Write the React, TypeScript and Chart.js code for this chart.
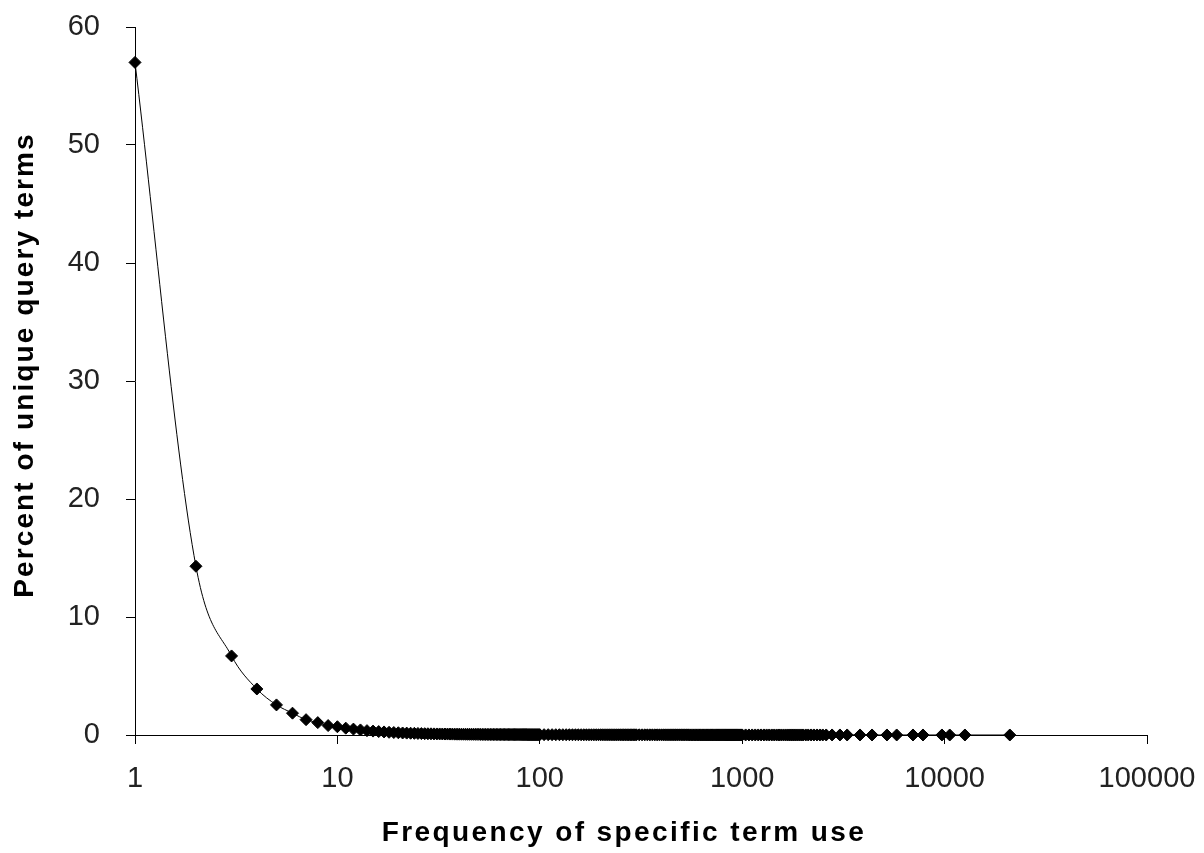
import React, { useEffect, useRef } from 'react';
import { Chart, registerables } from 'chart.js';

Chart.register(...registerables);

const FONT = '"Liberation Sans", Arial, sans-serif';

// Frequency of specific term use (x, log scale)
const frequencies = [
  1, 2, 3, 4, 5, 6, 7, 8, 9, 10,
  11, 12, 13, 14, 15, 16, 17, 18, 19, 20,
  21, 22, 23, 24, 25, 26, 27, 28, 29, 30,
  31, 32, 33, 34, 35, 36, 37, 38, 39, 40,
  41, 42, 43, 44, 45, 46, 47, 48, 49, 50,
  51, 52, 53, 54, 55, 56, 57, 58, 59, 60,
  61, 62, 63, 64, 65, 66, 67, 68, 69, 70,
  71, 72, 73, 74, 75, 76, 77, 78, 79, 80,
  81, 82, 83, 84, 85, 86, 87, 88, 89, 90,
  91, 92, 93, 94, 95, 96, 97, 98, 99, 100,
  105, 110, 115, 120, 125, 130, 135, 140, 145, 150,
  155, 160, 165, 170, 175, 180, 185, 190, 195, 200,
  205, 210, 215, 220, 225, 230, 235, 240, 245, 250,
  255, 260, 265, 270, 275, 280, 285, 290, 295, 300,
  310, 320, 330, 340, 350, 360, 370, 380, 390, 400,
  410, 420, 430, 440, 450, 460, 470, 480, 490, 500,
  510, 520, 530, 540, 550, 560, 570, 580, 590, 600,
  610, 620, 630, 640, 650, 660, 670, 680, 690, 700,
  710, 720, 730, 740, 750, 760, 770, 780, 790, 800,
  810, 820, 830, 840, 850, 860, 870, 880, 890, 900,
  910, 920, 930, 940, 950, 960, 970, 980, 990, 1000,
  1040, 1080, 1120, 1160, 1200, 1240, 1280, 1320, 1360, 1400,
  1440, 1480, 1520, 1560, 1600, 1640, 1680, 1720, 1760, 1800,
  1840, 1880, 1920, 1960, 2000,
  2060, 2120, 2190, 2260, 2340, 2420, 2500,
  2600, 2780, 3040, 3300, 3820, 4380, 5190, 5800, 6980, 7820, 9700, 10600, 12600, 21000,
];

// Percent of unique query terms (y)
const percents = [
  57, 14.3, 6.7, 3.9, 2.55, 1.85, 1.3, 1.05, 0.8, 0.7,
  0.58, 0.5, 0.43, 0.37, 0.33, 0.29, 0.26, 0.23, 0.21, 0.19,
  0.17, 0.16, 0.15, 0.14, 0.13, 0.12, 0.11, 0.105, 0.1, 0.095,
  0.09, 0.088, 0.085, 0.082, 0.08, 0.077, 0.075, 0.072, 0.07, 0.068,
  0.066, 0.064, 0.062, 0.06, 0.059, 0.058, 0.056, 0.055, 0.054, 0.053,
  0.052, 0.051, 0.05, 0.049, 0.048, 0.047, 0.046, 0.046, 0.045, 0.044,
  0.044, 0.043, 0.042, 0.042, 0.041, 0.04, 0.04, 0.039, 0.039, 0.038,
  0.038, 0.037, 0.037, 0.036, 0.036, 0.035, 0.035, 0.035, 0.034, 0.034,
  0.033, 0.033, 0.033, 0.032, 0.032, 0.032, 0.031, 0.031, 0.031, 0.03,
  0.03, 0.03, 0.029, 0.029, 0.029, 0.029, 0.028, 0.028, 0.028, 0.028,
  0.027, 0.027, 0.026, 0.026, 0.025, 0.025, 0.024, 0.024, 0.023, 0.023,
  0.022, 0.022, 0.021, 0.021, 0.021, 0.02, 0.02, 0.02, 0.019, 0.019,
  0.019, 0.018, 0.018, 0.018, 0.018, 0.017, 0.017, 0.017, 0.017, 0.016,
  0.016, 0.016, 0.016, 0.016, 0.015, 0.015, 0.015, 0.015, 0.015, 0.015,
  0.015, 0.014, 0.014, 0.014, 0.014, 0.014, 0.013, 0.013, 0.013, 0.013,
  0.013, 0.012, 0.012, 0.012, 0.012, 0.012, 0.012, 0.011, 0.011, 0.011,
  0.011, 0.011, 0.011, 0.011, 0.01, 0.01, 0.01, 0.01, 0.01, 0.01,
  0.01, 0.01, 0.009, 0.009, 0.009, 0.009, 0.009, 0.009, 0.009, 0.009,
  0.009, 0.009, 0.008, 0.008, 0.008, 0.008, 0.008, 0.008, 0.008, 0.008,
  0.008, 0.008, 0.008, 0.007, 0.007, 0.007, 0.007, 0.007, 0.007, 0.007,
  0.007, 0.007, 0.007, 0.007, 0.007, 0.006, 0.006, 0.006, 0.006, 0.006,
  0.006, 0.006, 0.006, 0.006, 0.006, 0.006, 0.006, 0.006, 0.005, 0.005,
  0.005, 0.005, 0.005, 0.005, 0.005, 0.005, 0.005, 0.005, 0.005, 0.005,
  0.005, 0.005, 0.004, 0.004, 0.004,
  0.004, 0.004, 0.004, 0.004, 0.004, 0.003, 0.003,
  0.003, 0.003, 0.003, 0.003, 0.003, 0.002, 0.002, 0.002, 0.002, 0.002, 0.002, 0.001, 0.001, 0.001,
];

const xTicks = [1, 10, 100, 1000, 10000, 100000];
const yTicks = [0, 10, 20, 30, 40, 50, 60];

const xTitle = 'Frequency of specific term use';
const yTitle = 'Percent of unique query terms';

// Widens the axis titles' letter spacing and nudges them, like the reference.
const titleStylePlugin = {
  id: 'titleStyle',
  beforeDraw(chart: any) {
    const tweaks: Record<string, { dx: number; dy: number; spacing: string }> = {
      x: { dx: -17, dy: 0, spacing: '2.4px' },
      y: { dx: 0, dy: -16, spacing: '2.1px' },
    };
    Object.keys(tweaks).forEach((id) => {
      const scale = chart.scales[id];
      if (!scale || scale.__titlePatched) return;
      const orig = scale.drawTitle.bind(scale);
      const t = tweaks[id];
      scale.drawTitle = function () {
        const ctx = chart.ctx;
        ctx.save();
        ctx.translate(t.dx, t.dy);
        try {
          (ctx as any).letterSpacing = t.spacing;
        } catch (e) {
          /* ignore */
        }
        orig();
        ctx.restore();
      };
      scale.__titlePatched = true;
    });
  },
};

export default function App() {
  const ref = useRef<HTMLCanvasElement>(null);

  useEffect(() => {
    if (!ref.current) return;
    const n = Math.min(frequencies.length, percents.length);
    const points = frequencies.slice(0, n).map((f, i) => ({ x: f, y: percents[i] }));
    const chart = new Chart(ref.current, {
      type: 'line',
      data: {
        datasets: [
          {
            data: points,
            borderColor: '#000',
            borderWidth: 1,
            pointStyle: 'rectRot',
            pointRadius: 6,
            pointBackgroundColor: '#000',
            pointBorderColor: '#000',
            pointBorderWidth: 1,
            cubicInterpolationMode: 'monotone',
            clip: false,
          } as any,
        ],
      },
      plugins: [titleStylePlugin],
      options: {
        animation: false,
        responsive: false,
        maintainAspectRatio: false,
        layout: { padding: { top: 27, right: 57, left: 0, bottom: 0 } },
        plugins: { legend: { display: false }, tooltip: { enabled: false } },
        scales: {
          x: {
            type: 'logarithmic',
            min: 1,
            max: 100000,
            afterBuildTicks: (s: any) => {
              s.ticks = xTicks.map((v) => ({ value: v }));
            },
            afterFit: (s: any) => {
              s.height = 118;
              s.paddingLeft = 0;
              s.paddingRight = 0;
            },
            ticks: {
              callback: (v: any) => String(v),
              font: { family: FONT, size: 29 },
              color: '#222',
              padding: 18,
              maxRotation: 0,
              autoSkip: false,
            },
            grid: {
              display: true,
              drawOnChartArea: false,
              drawTicks: true,
              tickLength: 9,
              color: '#000',
            },
            border: { display: true, color: '#000', width: 1 },
            title: {
              display: true,
              text: xTitle,
              font: { family: FONT, size: 28, weight: 'bold' },
              color: '#000',
              padding: { bottom: 3, top: 0 },
            },
          },
          y: {
            type: 'linear',
            min: 0,
            max: 60,
            afterBuildTicks: (s: any) => {
              s.ticks = yTicks.map((v) => ({ value: v }));
            },
            afterFit: (s: any) => {
              s.width = 135;
              s.paddingTop = 0;
              s.paddingBottom = 0;
            },
            ticks: {
              callback: (v: any) => String(v),
              font: { family: FONT, size: 29 },
              color: '#222',
              padding: 26,
            },
            grid: {
              display: true,
              drawOnChartArea: false,
              drawTicks: true,
              tickLength: 9,
              color: '#000',
            },
            border: { display: true, color: '#000', width: 1 },
            title: {
              display: true,
              text: yTitle,
              font: { family: FONT, size: 28, weight: 'bold' },
              color: '#000',
              padding: { top: 8, bottom: 0 },
            },
          },
        },
      } as any,
    });
    return () => chart.destroy();
  }, []);

  return (
    <div style={{ position: 'absolute', left: 0, top: 0, width: 1204, height: 853, background: '#fff' }}>
      <canvas ref={ref} width={1204} height={853} style={{ display: 'block' }} />
    </div>
  );
}
